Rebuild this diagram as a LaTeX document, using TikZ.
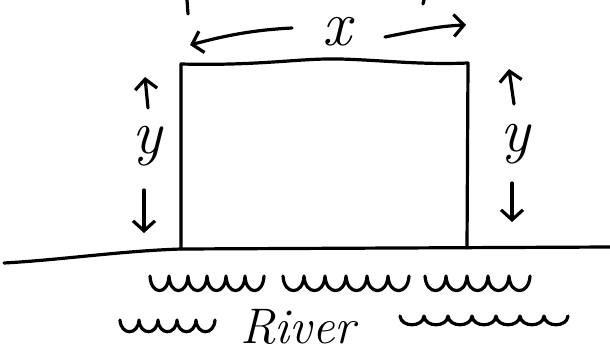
\documentclass[tikz,border=0pt]{standalone}
\usetikzlibrary{arrows.meta}
\newcommand{\wavesrow}[5]{% x0, y0, count, width, height
  \draw[pen] (#1,#2) \foreach \i in {1,...,#3}{
    .. controls ({#1+(\i-1)*#4+0.05*#4},{#2+1.3*#5}) and ({#1+(\i-1)*#4+0.95*#4},{#2+1.3*#5}) .. ({#1+\i*#4},#2)};}
\begin{document}
\begin{tikzpicture}[x=1pt,y=-1pt,line cap=round,line join=round,
  pen/.style={line width=3.2pt},
  tip/.style={-{Straight Barb[length=10pt,width=22pt]}},
  lbl/.style={font=\fontsize{62}{62}\selectfont\itshape, inner sep=0pt}]
\useasboundingbox[fill=white] (0,0) rectangle (610,354);
% corners
\coordinate (tl) at (181,64);
\coordinate (tr) at (468,63);
\coordinate (bl) at (181,249);
\coordinate (br) at (467,248);
\draw[pen] (bl) -- (tl) .. controls (260,66) and (300,58) .. (340,59)
  .. controls (380,60) and (420,65) .. (tr) -- (br);
% ground
\coordinate (g0) at (4,263);
\coordinate (g2) at (610,247);
\draw[pen] (g0) .. controls (60,260) and (120,251) .. (bl) -- (g2);
% marks at top edge
\coordinate (m1a) at (187,0); \coordinate (m1b) at (188,14);
\coordinate (m2a) at (424,0); \coordinate (m2b) at (423,4);
\draw[pen] (m1a) -- (m1b);
\draw[pen] (m2a) -- (m2b);
% x label and arrows
\node[lbl, font=\fontsize{64}{64}\selectfont\itshape] (xl) at (337,32) {x};
\coordinate (xa1) at (292,28); \coordinate (xa2) at (190,45);
\coordinate (xb1) at (385,37); \coordinate (xb2) at (466,25);
\draw[pen,tip] (xa1) .. controls (250,30) and (220,37) .. (xa2);
\draw[pen,tip] (xb1) .. controls (420,30) and (440,26) .. (xb2);
% left y
\node[lbl] (yl) at (147,146) {y};
\coordinate (ya1) at (148,108); \coordinate (ya2) at (145,77);
\coordinate (yb1) at (144,190); \coordinate (yb2) at (144,233);
\draw[pen,tip] (ya1) -- (ya2);
\draw[pen,tip] (yb1) -- (yb2);
% right y
\node[lbl] (yr) at (515,144) {y};
\coordinate (yc1) at (514,104); \coordinate (yc2) at (509,69);
\coordinate (yd1) at (512,183); \coordinate (yd2) at (512,222);
\draw[pen,tip] (yc1) -- (yc2);
\draw[pen,tip] (yd1) -- (yd2);
% waves row 1
\wavesrow{150}{276}{6}{19}{15}
\wavesrow{283}{276}{6}{21}{15}
\wavesrow{425}{276}{5}{21}{15}
% waves row 2
\wavesrow{120}{320}{5}{19}{12}
\wavesrow{400}{316}{7}{24}{9}
\node[font=\fontsize{50}{50}\selectfont\itshape, inner sep=0pt] (river) at (298,327) {River};
\end{tikzpicture}
\end{document}
